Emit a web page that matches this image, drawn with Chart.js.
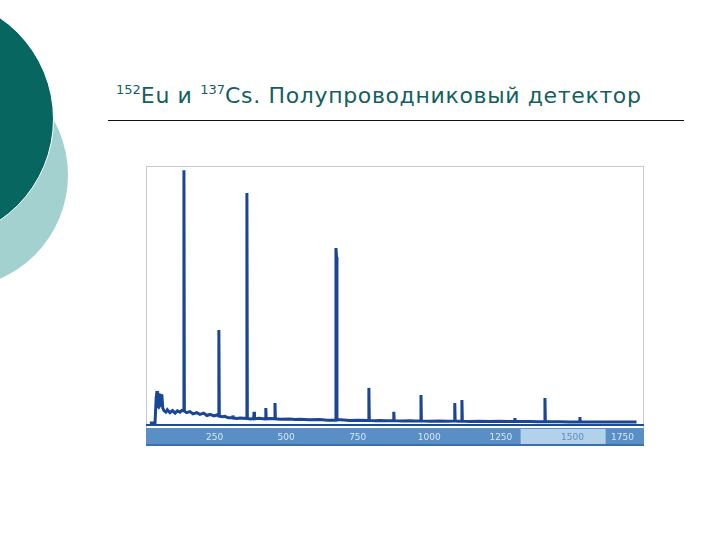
<!DOCTYPE html>
<html>
<head>
<meta charset="utf-8">
<script src="https://cdn.jsdelivr.net/npm/chart.js@4"></script>
<style>
  html, body { margin: 0; padding: 0; background: #fff; }
  body { width: 720px; height: 540px; position: relative; overflow: hidden; }
  .circ { position: absolute; border-radius: 50%; }
  #light { left: -158px; top: 62px; width: 226px; height: 226px; background: #a3d1cf; }
  #dark { left: -192px; top: -4px; width: 244px; height: 244px; background: #086660; border: 1px solid #fff; }
  #title { position: absolute; left: 116px; top: 82px; font-family: "DejaVu Sans", sans-serif;
           font-size: 22px; color: #135f5e; white-space: nowrap; letter-spacing: 0.65px; }
  #title sup { font-size: 13px; vertical-align: 9px; letter-spacing: 0; }
  #rule { position: absolute; left: 108px; top: 120px; width: 576px; height: 1px; background: #111; }
  #wrap { position: absolute; left: 143px; top: 166px; width: 501px; height: 280px; }
</style>
</head>
<body>
<div class="circ" id="light"></div>
<div class="circ" id="dark"></div>
<div id="title"><sup>152</sup>Eu и <sup>137</sup>Cs. Полупроводниковый детектор</div>
<div id="rule"></div>
<div id="wrap"><canvas id="spec" width="501" height="280"></canvas></div>
<script>
// spectrum (channel, counts in % of full height)
const channels = [24, 42, 44, 46, 49, 51, 55, 58, 60, 66, 69, 73, 80, 85, 94, 103, 112, 120, 129, 136,
  141.5, 143, 144.5, 152, 164, 175, 188, 199, 212, 223, 234, 248, 258, 263.5, 265, 266.5, 278, 286, 298,
  312.5, 314, 315.5, 330, 339, 352, 361.5, 363, 364.5, 375, 386.5, 388, 389.5, 405, 427.5, 429, 430.5, 445,
  459.5, 461, 462.5, 480, 513, 530, 548, 580, 618, 645, 672.5, 674, 676, 677.5, 690, 722, 750,
  787.5, 789, 790.5, 810, 827, 850, 874.5, 876, 877.5, 905, 932, 950, 969.5, 971, 972.5, 1000, 1037, 1060,
  1087.5, 1089, 1090.5, 1100, 1112.5, 1114, 1115.5, 1140, 1176, 1210, 1246, 1270, 1297.5, 1299, 1300.5,
  1330, 1351, 1380, 1402.5, 1404, 1405.5, 1430, 1455, 1490, 1524.5, 1526, 1527.5, 1560, 1595, 1630, 1665,
  1700, 1724];
const counts = [0.4, 0.5, 0.5, 10, 12.8, 7, 6.5, 7, 11.2, 11, 6.2, 5.2, 4.6, 5.5, 4.4, 5.2, 4.2, 5.1, 4.6, 5.3,
  5.1, 98.4, 5, 4.4, 4.8, 3.9, 4.4, 3.7, 4.2, 3.3, 3.7, 3.1, 3.5, 3.2, 36.4, 3, 2.8, 3, 2.4,
  2.4, 3.3, 2.3, 2.1, 2.3, 2.2, 2.1, 89.5, 2.1, 1.9, 2.1, 4.7, 2, 2.2, 1.9, 6.2, 2, 2.1,
  2, 8.1, 2, 1.8, 1.9, 1.7, 1.8, 1.6, 1.7, 1.5, 1.5, 68.2, 64.7, 1.6, 1.6, 1.4, 1.5,
  1.4, 14, 1.4, 1.3, 1.4, 1.3, 1.3, 4.7, 1.3, 1.2, 1.3, 1.2, 1.2, 11.2, 1.2, 1.1, 1.2, 1.1,
  1.2, 8.1, 1.2, 1.1, 1.1, 9.3, 1.1, 1.0, 1.1, 1.0, 1.1, 1.0, 1.0, 2.3, 1.0,
  1.0, 1.0, 0.9, 0.9, 10.1, 0.9, 0.9, 0.9, 0.8, 0.8, 2.7, 0.8, 0.8, 0.8, 0.8, 0.8,
  0.8, 0.8];

const tickValues = [250, 500, 750, 1000, 1250, 1500, 1750];
const tickLabels = ['250', '500', '750', '1000', '1250', '1500', '1750'];
const viewStart = 1319, viewEnd = 1616;   // highlighted part of the scroll bar
const xMax = 1750;

const points = channels.map((c, i) => ({ x: c, y: counts[i] }));

// frame, axis line and the blue scroll bar with channel numbers
const bandPlugin = {
  id: 'band',
  beforeDraw(chart) {
    const { ctx } = chart;
    ctx.save();
    ctx.strokeStyle = '#c3ccd2';
    ctx.lineWidth = 1;
    ctx.strokeRect(3.5, 0.5, chart.width - 4, chart.height - 1);
    ctx.restore();
  },
  afterDraw(chart) {
    const { ctx, chartArea: a, scales: { x } } = chart;
    const top = a.bottom + 4, bot = chart.height;
    ctx.save();
    ctx.fillStyle = '#1d4c98';
    ctx.fillRect(3, a.bottom, chart.width - 3, 2);
    ctx.fillStyle = '#5a8fc6';
    ctx.fillRect(3, top, chart.width - 3, bot - top);
    ctx.fillStyle = '#b2d1ea';
    ctx.fillRect(x.getPixelForValue(viewStart), top + 1, x.getPixelForValue(viewEnd) - x.getPixelForValue(viewStart), bot - top - 2);
    ctx.fillStyle = '#3f70ad';
    ctx.fillRect(3, bot - 2, chart.width - 3, 2);
    ctx.font = '9px "DejaVu Sans"';
    ctx.textBaseline = 'middle';
    tickValues.forEach((v, i) => {
      let px = x.getPixelForValue(v);
      ctx.textAlign = 'center';
      if (v >= xMax) { ctx.textAlign = 'right'; px -= 10; }
      ctx.fillStyle = (v > viewStart && v < viewEnd) ? '#5f8fc0' : '#d8e7f5';
      ctx.fillText(tickLabels[i], px, (top + bot) / 2 + 1);
    });
    ctx.restore();
  }
};

new Chart(document.getElementById('spec'), {
  type: 'scatter',
  data: {
    datasets: [{
      data: points,
      showLine: true,
      borderColor: '#1b4695',
      borderWidth: 3,
      pointRadius: 0,
      tension: 0
    }]
  },
  options: {
    responsive: false,
    animation: false,
    layout: { padding: { top: 0, bottom: 22, left: 0, right: 0 } },
    plugins: { legend: { display: false }, tooltip: { enabled: false } },
    scales: {
      x: { type: 'linear', min: 0, max: xMax, display: false },
      y: { min: 0, max: 100, display: false }
    }
  },
  plugins: [bandPlugin]
});
</script>
</body>
</html>
